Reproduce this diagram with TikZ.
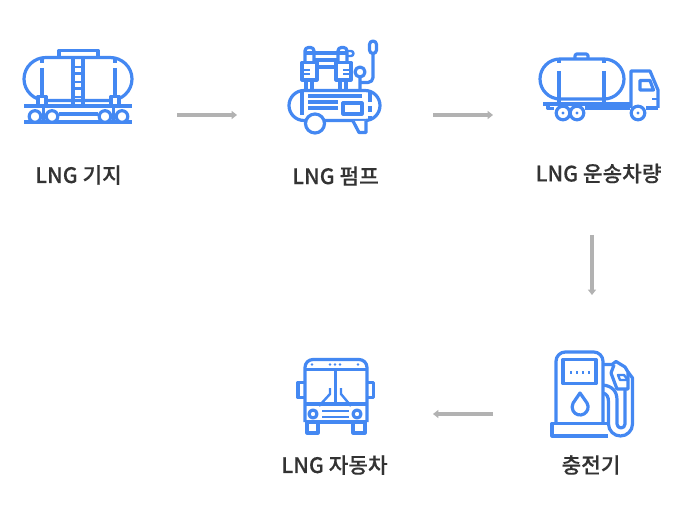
\documentclass[tikz,border=0pt]{standalone}
\usepackage{fontspec}
\setmainfont{Noto Sans CJK KR}[BoldFont={Noto Sans CJK KR Medium},BoldFeatures={FakeBold=0.2}]
\usetikzlibrary{arrows.meta}
\definecolor{iconblue}{HTML}{4488F2}
\definecolor{flowgray}{HTML}{B2B2B2}
\definecolor{labeltext}{HTML}{333333}
\tikzset{
  icon/.style={draw=iconblue,line width=2.4pt,line join=round},
  thinicon/.style={icon,line width=1.8pt},
  flow/.style={draw=flowgray,line width=2.4pt,-{Triangle[length=4pt,width=6pt]}},
  stationlabel/.style={text=labeltext,font=\fontsize{16}{18}\selectfont\bfseries,inner sep=0pt}
}
\begin{document}
\begin{tikzpicture}[x=0.75pt,y=-0.75pt]
  \useasboundingbox (0,0) rectangle (685,513);
  % storage tank wagon
  \draw[icon] (46,57.5) -- (110,57.5) arc[start angle=-90,end angle=90,x radius=22,y radius=21.5] -- (46,100.5) arc[start angle=90,end angle=270,x radius=22,y radius=21.5] -- cycle;
  \draw[icon] (59,57) -- (59,50.5) -- (98,50.5) -- (98,57);
  \draw[icon] (73,57) -- (73,106) (83,57) -- (83,106);
  \foreach \y in {67,73.5,82,88.5,97} \draw[thinicon] (73,\y) -- (83,\y);
  \draw[icon] (42,58) -- (42,63) (42,68) -- (42,96) (115,58) -- (115,63) (115,68) -- (115,96);
  \draw[icon,fill=white] (38,106) -- (38,96.5) -- (46,96.5) -- (46,106) (111,106) -- (111,96.5) -- (119,96.5) -- (119,106);
  \draw[icon] (24,106) -- (132,106) (24,122) -- (132,122) (59,114) -- (98,114);
  \draw[icon] (43.5,106) -- (43.5,122) (113.5,106) -- (113.5,122);
  \foreach \x in {35,52,105,122} \draw[icon,fill=white] (\x,116.5) circle[radius=5.8];
  % compressor pump
  \draw[icon] (304,90.5) -- (365,90.5) arc[start angle=-90,end angle=90,radius=15] -- (304,120.5) arc[start angle=90,end angle=270,radius=15] -- cycle;
  \draw[icon] (302,91) -- (302,115) (370,91) -- (370,102) (370,106) -- (370,112) (370,116) -- (370,120);
  \draw[icon] (308,96) -- (362,96) (308,102) -- (338,102) (308,108) -- (338,108);
  \draw[icon] (343,103) rectangle (362,114);
  \draw[icon,fill=white] (315,123.5) circle[radius=9.5];
  \draw[icon,fill=white] (353,121) -- (359,132.5) -- (366,132.5) -- (366,121);
  \draw[icon,rounded corners=2.5] (305,62) -- (305,47.5) -- (314,47.5) -- (314,62);
  \draw[icon,rounded corners=2.5] (338,62) -- (338,47.5) -- (347,47.5) -- (347,62);
  \draw[icon] (305,53) -- (314,53) (338,53) -- (347,53);
  \draw[icon] (302,62.5) rectangle (317,80) (336,62.5) rectangle (351,80);
  \draw[icon] (314,53) -- (338,53) (314,60) -- (338,60) (317,67) -- (336,67);
  \draw[thinicon] (304,70) -- (310,70) (304,74) -- (310,74) (343,70) -- (349,70) (343,74) -- (349,74);
  \draw[icon] (306,80) -- (306,90) (312,80) -- (312,90) (340,80) -- (340,90) (346,80) -- (346,90);
  \draw[thinicon] (347,51) -- (351,51) arc[start angle=-90,end angle=90,radius=2.5] -- (347,56);
  \draw[icon] (360,72) circle[radius=5];
  \draw[icon] (360,77) -- (360,90) (361,82.5) -- (368,82.5) arc[start angle=90,end angle=0,radius=5] -- (373,53);
  \draw[icon] (369.5,44.5) arc[start angle=180,end angle=360,radius=3.5] -- (376.5,50) arc[start angle=0,end angle=180,radius=3.5] -- cycle;
  % tanker truck
  \draw[icon] (560,59) -- (604,59) arc[start angle=-90,end angle=90,radius=20] -- (560,99) arc[start angle=90,end angle=270,radius=20] -- cycle;
  \draw[icon,rounded corners=1.5] (575,58) -- (575,54) -- (588,54) -- (588,58);
  \draw[icon] (559,60) -- (559,63) (559,71) -- (559,98) (604,60) -- (604,63) (604,71) -- (604,98);
  \draw[icon] (543,104) -- (631,104) (559,98) -- (559,104) (604,98) -- (604,104);
  \draw[icon] (548,104) -- (548,108.5) -- (554,108.5) (585,108) -- (630,108) (646,108) -- (658,108);
  \draw[icon] (631,108) -- (631,71) -- (650,71) -- (658,90) -- (658,108);
  \draw[icon] (640,80.5) -- (650,80.5) -- (653.5,90) -- (640,90) -- cycle;
  \draw[thinicon] (652,99) -- (658,99);
  \foreach \x in {563,577,638} {
    \draw[icon,fill=white] (\x,113) circle[radius=6.8];
    \fill[iconblue] (\x,113) circle[radius=1.7];
  }
  % fuel dispenser
  \draw[icon,rounded corners=7] (556,424) -- (556,352) -- (603,352) -- (603,424);
  \draw[icon] (563,359.5) rectangle (596,383.5);
  \foreach \x in {571,577,583,589} \fill[iconblue] (\x-1,371) rectangle (\x+1,373.5);
  \draw[icon] (580,393) -- (587,403) arc[start angle=-30,end angle=210,radius=8] -- cycle;
  \draw[icon] (608,423.5) -- (552,423.5) -- (552,436) -- (608,436);
  \draw[icon] (603,364.5) -- (612,364.5) -- (616,361.5) -- (625,367) -- (628,372) -- (628,389) -- (617,389) -- (611,373) -- (614,365);
  \draw[thinicon] (618,375) -- (624,375) -- (628,380) -- (620,380) -- cycle;
  \draw[icon] (603,393) .. controls (607,394) and (608.5,397) .. (608.5,402) -- (608.5,424) arc[start angle=180,end angle=0,radius=12] -- (632.5,378) -- (628,372);
  \draw[icon] (603,385) .. controls (612,386) and (617,391) .. (617,400) -- (617,424) arc[start angle=180,end angle=0,radius=4] -- (625,389);
  % bus
  \draw[icon,rounded corners=6] (305,422) -- (305,359.5) -- (367,359.5) -- (367,422);
  \draw[icon] (305,422) -- (367,422);
  \draw[icon] (305,369.5) -- (367,369.5) (305,404) -- (367,404) (335.5,369.5) -- (335.5,404);
  \foreach \x in {312,330,335,340,358} \fill[iconblue] (\x,364.5) circle[radius=1.4];
  \draw[icon] (305,382.5) -- (298,382.5) -- (298,397.5) -- (305,397.5) (367,382.5) -- (373.5,382.5) -- (373.5,397.5) -- (367,397.5);
  \draw[thinicon] (319,406) -- (330,394) -- (330,388) (351,406) -- (341,394) -- (341,388);
  \draw[icon] (313,414) circle[radius=4] (357,414) circle[radius=4];
  \draw[thinicon] (322,411) -- (349,411) (322,417) -- (349,417);
  \draw[icon] (307,422) -- (307,433) -- (318,433) -- (318,422) (353,422) -- (353,433) -- (365,433) -- (365,422);
  % station names
  \node[stationlabel] (basename) at (78.5,175) {LNG 기지};
  \node[stationlabel] (pumpname) at (335.5,176) {LNG 펌프};
  \node[stationlabel] (truckname) at (598.5,173.5) {LNG 운송차량};
  \node[stationlabel] (chargername) at (591,465) {충전기};
  \node[stationlabel] (busname) at (334.5,465) {LNG 자동차};
  % flow between the stations
  \coordinate (baseout) at (177,115);
  \coordinate (pumpin) at (237,115);
  \coordinate (pumpout) at (433,115);
  \coordinate (truckin) at (493,115);
  \coordinate (truckout) at (592,235);
  \coordinate (chargerin) at (592,295);
  \coordinate (chargerout) at (493,414);
  \coordinate (busin) at (433,414);
  \draw[flow] (baseout) -- (pumpin);
  \draw[flow] (pumpout) -- (truckin);
  \draw[flow] (truckout) -- (chargerin);
  \draw[flow] (chargerout) -- (busin);
\end{tikzpicture}
\end{document}
